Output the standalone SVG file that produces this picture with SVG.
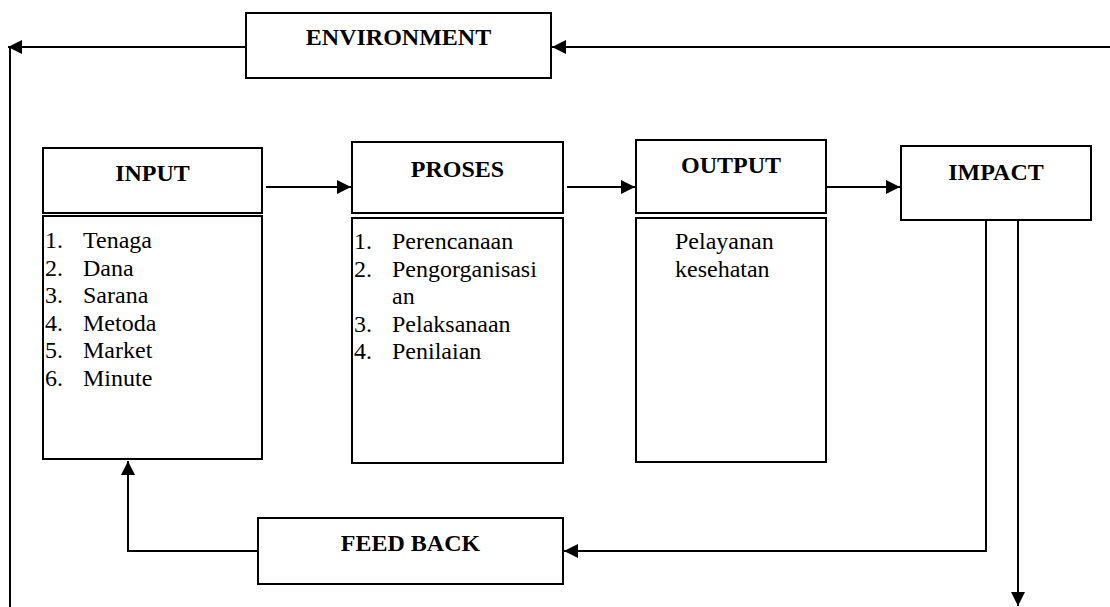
<svg xmlns="http://www.w3.org/2000/svg" width="1110" height="607" viewBox="0 0 1110 607">
  <style>
    .box { fill: #fff; stroke: #000; stroke-width: 2; }
    .head { font-family: "Liberation Serif", "Times New Roman", serif; font-size: 24px; font-weight: bold; fill: #000; text-anchor: middle; }
    text.item { font-family: "Liberation Serif", "Times New Roman", serif; font-size: 24px; font-weight: normal; fill: #000; }
    .link { fill: none; stroke: #000; stroke-width: 2; }
  </style>
  <defs>
    <marker id="arrow" viewBox="0 0 14 14" refX="14" refY="7" markerWidth="14" markerHeight="14" markerUnits="userSpaceOnUse" orient="auto">
      <path d="M0,0 L14,7 L0,14 Z" fill="#000"/>
    </marker>
  </defs>
  <rect width="1110" height="607" fill="#fff"/>

  <!-- connectors -->
  <g id="connectors">
    <!-- environment: from the right edge into the box, and out to the left -->
    <path class="link" d="M1110,47 H552" marker-end="url(#arrow)"/>
    <path class="link" d="M246,47 H8" marker-end="url(#arrow)"/>
    <path class="link" d="M10,47 V607"/>
    <!-- main flow -->
    <path class="link" d="M266,187 H351" marker-end="url(#arrow)"/>
    <path class="link" d="M567,187 H635" marker-end="url(#arrow)"/>
    <path class="link" d="M826,187 H900" marker-end="url(#arrow)"/>
    <!-- impact outputs -->
    <path class="link" d="M986,220 V551 H564" marker-end="url(#arrow)"/>
    <path class="link" d="M1018,220 V606" marker-end="url(#arrow)"/>
    <!-- feedback to input -->
    <path class="link" d="M258,551 H128 V461" marker-end="url(#arrow)"/>
  </g>

  <g id="environment">
    <rect class="box" x="246" y="13" width="305" height="65"/>
    <text class="head" x="398.5" y="45">ENVIRONMENT</text>
  </g>

  <g id="input">
    <rect class="box" x="43" y="148" width="219" height="65"/>
    <rect class="box" x="43" y="216" width="219" height="243"/>
    <text class="head" x="152.5" y="181">INPUT</text>
    <text class="item" x="45" y="248">1.</text><text class="item" x="83" y="248">Tenaga</text>
    <text class="item" x="45" y="275.5">2.</text><text class="item" x="83" y="275.5">Dana</text>
    <text class="item" x="45" y="303">3.</text><text class="item" x="83" y="303">Sarana</text>
    <text class="item" x="45" y="330.5">4.</text><text class="item" x="83" y="330.5">Metoda</text>
    <text class="item" x="45" y="358">5.</text><text class="item" x="83" y="358">Market</text>
    <text class="item" x="45" y="385.5">6.</text><text class="item" x="83" y="385.5">Minute</text>
  </g>

  <g id="proses">
    <rect class="box" x="352" y="142" width="211" height="71"/>
    <rect class="box" x="352" y="218" width="211" height="245"/>
    <text class="head" x="457.5" y="177">PROSES</text>
    <text class="item" x="354" y="249">1.</text><text class="item" x="392" y="249">Perencanaan</text>
    <text class="item" x="354" y="276.5">2.</text><text class="item" x="392" y="276.5">Pengorganisasi</text>
    <text class="item" x="392" y="304">an</text>
    <text class="item" x="354" y="331.5">3.</text><text class="item" x="392" y="331.5">Pelaksanaan</text>
    <text class="item" x="354" y="359">4.</text><text class="item" x="392" y="359">Penilaian</text>
  </g>

  <g id="output">
    <rect class="box" x="636" y="140" width="190" height="73"/>
    <rect class="box" x="636" y="218" width="190" height="244"/>
    <text class="head" x="731" y="173">OUTPUT</text>
    <text class="item" x="675" y="249">Pelayanan</text>
    <text class="item" x="675" y="276.5">kesehatan</text>
  </g>

  <g id="impact">
    <rect class="box" x="901" y="146" width="190" height="74"/>
    <text class="head" x="996" y="180">IMPACT</text>
  </g>

  <g id="feedback">
    <rect class="box" x="258" y="518" width="305" height="66"/>
    <text class="head" x="410.5" y="551">FEED BACK</text>
  </g>
</svg>
